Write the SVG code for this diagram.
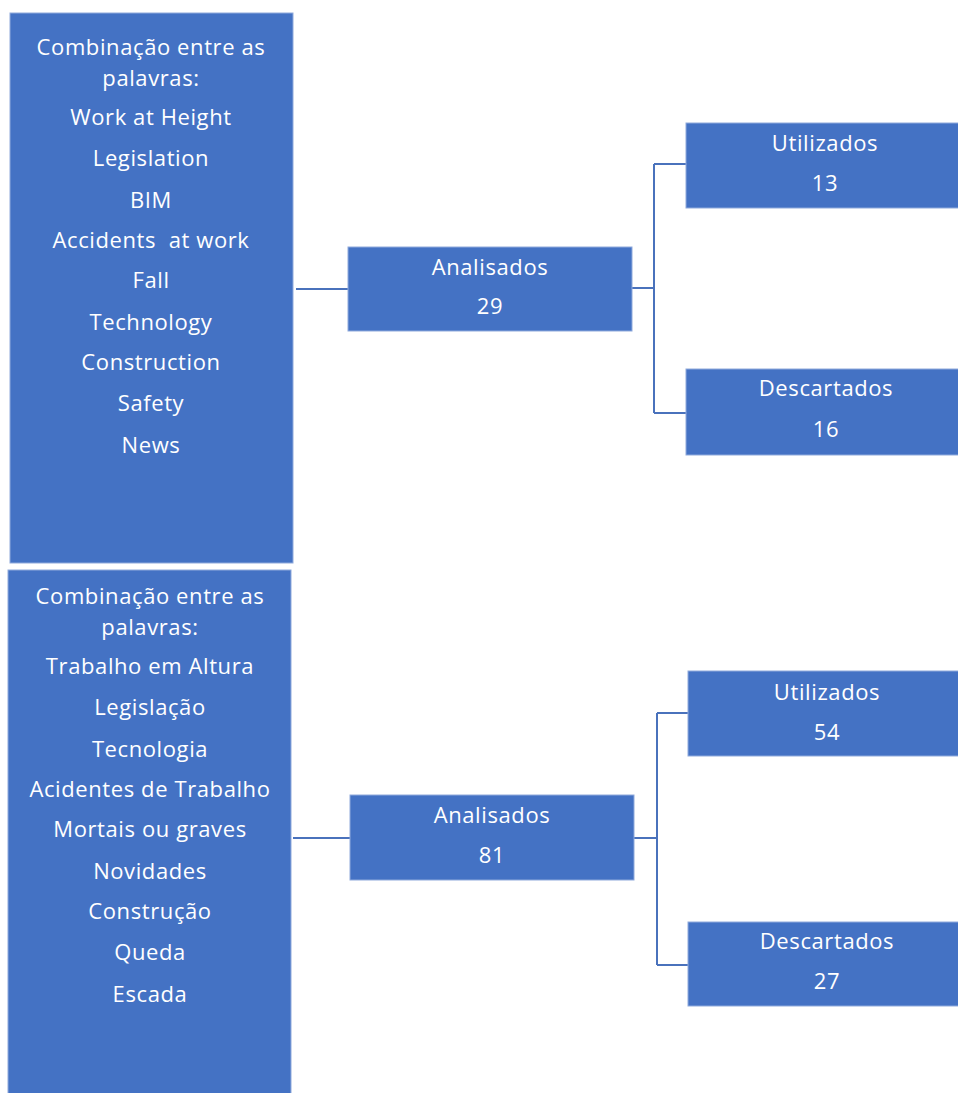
<svg xmlns="http://www.w3.org/2000/svg" width="958" height="1093" viewBox="0 0 958 1093">
<style>
.box{fill:#4472C4;stroke:#8FAADC;stroke-width:1}
.t{font-family:"Open Sans","Liberation Sans",sans-serif;font-size:22px;letter-spacing:0.6px;fill:#FFFFFF;text-anchor:middle}
.c{fill:none;stroke:#4A72BC;stroke-width:2}
</style>
<rect width="958" height="1093" fill="#FFFFFF"/>
<g id="connectors">
<path class="c" d="M296 289 H348"/>
<path class="c" d="M632 288 H654 M654 164 V413 M654 164 H686 M654 413 H686"/>
<path class="c" d="M293 838 H350"/>
<path class="c" d="M634 838 H657 M657 713 V965 M657 713 H688 M657 965 H688"/>
</g>
<g id="keywords-en">
<rect class="box" x="10" y="13" width="283" height="550"/>
<text class="t" x="151" y="55">Combinação entre as</text>
<text class="t" x="151" y="86">palavras:</text>
<text class="t" x="151" y="125">Work at Height</text>
<text class="t" x="151" y="166">Legislation</text>
<text class="t" x="151" y="208">BIM</text>
<text class="t" x="151" y="248">Accidents&#160; at work</text>
<text class="t" x="151" y="288">Fall</text>
<text class="t" x="151" y="330">Technology</text>
<text class="t" x="151" y="370">Construction</text>
<text class="t" x="151" y="411">Safety</text>
<text class="t" x="151" y="453">News</text>
</g>
<g id="analisados-1">
<rect class="box" x="348" y="247" width="284" height="84"/>
<text class="t" x="490" y="275">Analisados</text>
<text class="t" x="490" y="314">29</text>
</g>
<g id="utilizados-1">
<rect class="box" x="686" y="123" width="280" height="85"/>
<text class="t" x="825" y="151">Utilizados</text>
<text class="t" x="825" y="191">13</text>
</g>
<g id="descartados-1">
<rect class="box" x="686" y="369" width="280" height="86"/>
<text class="t" x="826" y="396">Descartados</text>
<text class="t" x="826" y="437">16</text>
</g>
<g id="keywords-pt">
<rect class="box" x="8" y="570" width="283" height="530"/>
<text class="t" x="150" y="604">Combinação entre as</text>
<text class="t" x="150" y="635">palavras:</text>
<text class="t" x="150" y="674">Trabalho em Altura</text>
<text class="t" x="150" y="715">Legislação</text>
<text class="t" x="150" y="757">Tecnologia</text>
<text class="t" x="150" y="797">Acidentes de Trabalho</text>
<text class="t" x="150" y="837">Mortais ou graves</text>
<text class="t" x="150" y="879">Novidades</text>
<text class="t" x="150" y="919">Construção</text>
<text class="t" x="150" y="960">Queda</text>
<text class="t" x="150" y="1002">Escada</text>
</g>
<g id="analisados-2">
<rect class="box" x="350" y="795" width="284" height="85"/>
<text class="t" x="492" y="823">Analisados</text>
<text class="t" x="492" y="863">81</text>
</g>
<g id="utilizados-2">
<rect class="box" x="688" y="671" width="280" height="85"/>
<text class="t" x="827" y="700">Utilizados</text>
<text class="t" x="827" y="740">54</text>
</g>
<g id="descartados-2">
<rect class="box" x="688" y="922" width="280" height="84"/>
<text class="t" x="827" y="949">Descartados</text>
<text class="t" x="827" y="989">27</text>
</g>
</svg>
